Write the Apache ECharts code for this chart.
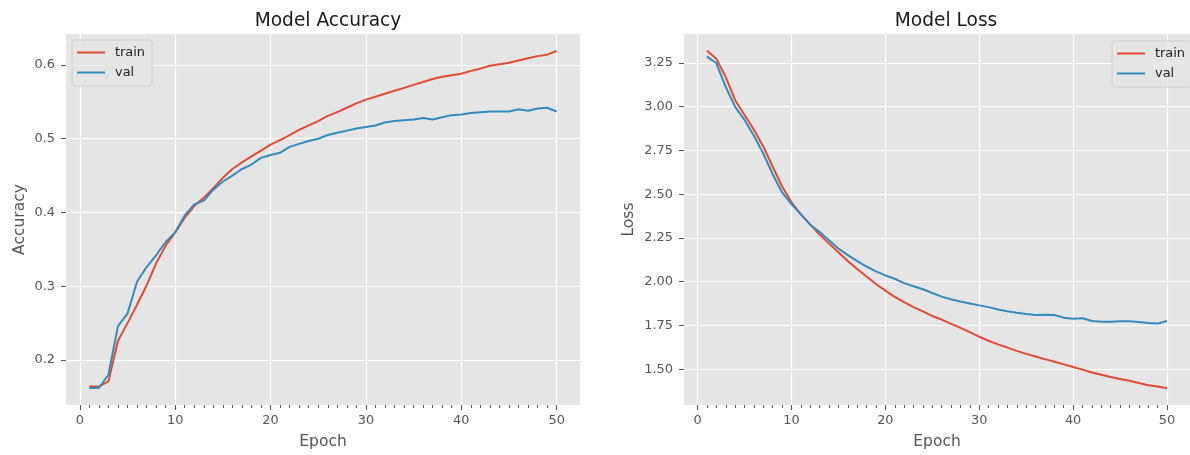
<!DOCTYPE html>
<html>
<head>
<meta charset="utf-8">
<script src="https://cdn.jsdelivr.net/npm/echarts@6/dist/echarts.min.js"></script>
<style>
  html, body { margin: 0; padding: 0; background: #ffffff; }
  #chart { width: 1190px; height: 455px; }
</style>
</head>
<body>
<div id="chart"></div>
<script>
// Training history: accuracy and loss per epoch
const epochs = [1, 2, 3, 4, 5, 6, 7, 8, 9, 10, 11, 12, 13, 14, 15, 16, 17, 18, 19, 20,
  21, 22, 23, 24, 25, 26, 27, 28, 29, 30, 31, 32, 33, 34, 35, 36, 37, 38, 39, 40,
  41, 42, 43, 44, 45, 46, 47, 48, 49, 50];

const trainAcc = [0.164, 0.164, 0.171, 0.226, 0.250, 0.275, 0.301, 0.331, 0.355, 0.373,
  0.393, 0.409, 0.420, 0.433, 0.447, 0.459, 0.468, 0.476, 0.484, 0.492,
  0.498, 0.505, 0.512, 0.518, 0.524, 0.531, 0.536, 0.542, 0.548, 0.553,
  0.557, 0.561, 0.565, 0.569, 0.573, 0.577, 0.581, 0.584, 0.586, 0.588,
  0.592, 0.595, 0.599, 0.601, 0.603, 0.606, 0.609, 0.612, 0.614, 0.619];

const valAcc = [0.162, 0.162, 0.180, 0.246, 0.263, 0.306, 0.326, 0.342, 0.360, 0.373,
  0.396, 0.411, 0.416, 0.431, 0.442, 0.450, 0.459, 0.465, 0.474, 0.478,
  0.481, 0.489, 0.493, 0.497, 0.500, 0.505, 0.508, 0.511, 0.514, 0.516,
  0.518, 0.522, 0.524, 0.525, 0.526, 0.528, 0.526, 0.529, 0.532, 0.533,
  0.535, 0.536, 0.537, 0.537, 0.537, 0.540, 0.538, 0.541, 0.542, 0.537];

const trainLoss = [3.319, 3.273, 3.169, 3.037, 2.952, 2.868, 2.773, 2.657, 2.544, 2.454,
  2.385, 2.326, 2.269, 2.218, 2.168, 2.118, 2.073, 2.030, 1.987, 1.949,
  1.914, 1.883, 1.855, 1.831, 1.804, 1.784, 1.759, 1.737, 1.712, 1.686,
  1.663, 1.642, 1.624, 1.605, 1.588, 1.573, 1.558, 1.543, 1.528, 1.513,
  1.498, 1.482, 1.469, 1.456, 1.445, 1.434, 1.422, 1.409, 1.402, 1.392];

const valLoss = [3.286, 3.248, 3.112, 2.999, 2.924, 2.834, 2.732, 2.614, 2.510, 2.444,
  2.385, 2.326, 2.284, 2.237, 2.190, 2.152, 2.118, 2.087, 2.059, 2.036,
  2.017, 1.992, 1.974, 1.957, 1.936, 1.915, 1.900, 1.887, 1.876, 1.865,
  1.855, 1.842, 1.831, 1.823, 1.816, 1.810, 1.812, 1.810, 1.795, 1.789,
  1.791, 1.776, 1.772, 1.772, 1.774, 1.774, 1.770, 1.765, 1.761, 1.776];

// Tick labels
const epochTicks = [0, 10, 20, 30, 40, 50];
const accTicks = [0.2, 0.3, 0.4, 0.5, 0.6];
const lossTicks = [1.5, 1.75, 2.0, 2.25, 2.5, 2.75, 3.0, 3.25];

const seriesNames = ['train', 'val'];

// ggplot-like styling
const FONT = 'DejaVu Sans';
const RED = '#E24A33';
const BLUE = '#348ABD';
const PANEL = '#E5E5E5';
const TICK_GREY = '#555555';

const pairs = (ys) => epochs.map((e, i) => [e, ys[i]]);

function mainXAxis(gridIndex) {
  return {
    type: 'value', gridIndex, position: 'bottom',
    min: -1.45, max: 52.45,
    name: 'Epoch', nameLocation: 'middle', nameGap: 29,
    nameTextStyle: { fontFamily: FONT, fontSize: 15.5, color: TICK_GREY },
    axisLine: { show: false, onZero: false },
    axisTick: { show: true, inside: false, length: 5, customValues: epochTicks,
      lineStyle: { color: TICK_GREY, width: 1 } },
    axisLabel: { show: true, customValues: epochTicks, margin: 9,
      fontFamily: FONT, fontSize: 12.9, color: TICK_GREY,
      formatter: (v) => String(v) },
    splitLine: { show: true, lineStyle: { color: '#ffffff', width: 1.2 } },
    minorTick: { show: false }
  };
}

// Per-epoch minor ticks drawn by a companion axis on the same grid
function minorXAxis(gridIndex) {
  return {
    type: 'value', gridIndex, position: 'bottom',
    min: -1.45, max: 52.45,
    axisLine: { show: false, onZero: false },
    axisTick: { show: true, inside: false, length: 3, customValues: epochs,
      lineStyle: { color: TICK_GREY, width: 1 } },
    axisLabel: { show: false },
    splitLine: { show: false }
  };
}

function yAxis(gridIndex, min, max, ticks, name, digits, nameGap) {
  return {
    type: 'value', gridIndex, position: 'left',
    min, max,
    name, nameLocation: 'middle', nameGap, nameRotate: 90,
    nameTextStyle: { fontFamily: FONT, fontSize: 15.5, color: TICK_GREY },
    axisLine: { show: false, onZero: false },
    axisTick: { show: true, inside: false, length: 5, customValues: ticks,
      lineStyle: { color: TICK_GREY, width: 1 } },
    axisLabel: { show: true, customValues: ticks, margin: 11,
      fontFamily: FONT, fontSize: 12.9, color: TICK_GREY,
      formatter: (v) => v.toFixed(digits) },
    splitLine: { show: true, lineStyle: { color: '#ffffff', width: 1.2 } }
  };
}

function lineSeries(name, data, color, xAxisIndex, yAxisIndex) {
  return {
    type: 'line', name, data,
    xAxisIndex, yAxisIndex,
    showSymbol: false, symbol: 'none',
    lineStyle: { color, width: 2 },
    itemStyle: { color },
    emphasis: { disabled: true },
    z: 3
  };
}

function legend(left, top) {
  return {
    show: true, orient: 'vertical', left, top,
    data: seriesNames.map((n) => ({ name: n, icon: 'rect' })),
    itemWidth: 28, itemHeight: 2, itemGap: 5,
    padding: [5, 7, 6, 5],
    backgroundColor: 'rgba(229,229,229,0.8)',
    borderColor: '#cccccc', borderWidth: 1, borderRadius: 3,
    textStyle: { fontFamily: FONT, fontSize: 12.9, color: '#222222',
      lineHeight: 15, padding: [0, 0, 0, 5] },
    selectedMode: false
  };
}

const option = {
  animation: false,
  backgroundColor: '#ffffff',
  title: [
    { text: 'Model Accuracy', left: 323, top: 7, textAlign: 'center',
      textStyle: { fontFamily: FONT, fontSize: 18.6, fontWeight: 'normal', color: '#1a1a1a' } },
    { text: 'Model Loss', left: 941, top: 7, textAlign: 'center',
      textStyle: { fontFamily: FONT, fontSize: 18.6, fontWeight: 'normal', color: '#1a1a1a' } }
  ],
  legend: [
    legend(72, 40),
    legend(1112, 41)
  ],
  grid: [
    { left: 66, top: 34, width: 514, height: 374, show: true,
      backgroundColor: PANEL, borderWidth: 0, containLabel: false },
    { left: 684, top: 34, width: 515, height: 374, show: true,
      backgroundColor: PANEL, borderWidth: 0, containLabel: false }
  ],
  xAxis: [mainXAxis(0), minorXAxis(0), mainXAxis(1), minorXAxis(1)],
  yAxis: [
    yAxis(0, 0.139, 0.642, accTicks, 'Accuracy', 1, 38),
    yAxis(1, 1.296, 3.415, lossTicks, 'Loss', 2, 47)
  ],
  series: [
    lineSeries('train', pairs(trainAcc), RED, 0, 0),
    lineSeries('val', pairs(valAcc), BLUE, 0, 0),
    lineSeries('train', pairs(trainLoss), RED, 2, 1),
    lineSeries('val', pairs(valLoss), BLUE, 2, 1)
  ]
};

const chart = echarts.init(document.getElementById('chart'), null, { renderer: 'canvas' });
chart.setOption(option);
</script>
</body>
</html>
